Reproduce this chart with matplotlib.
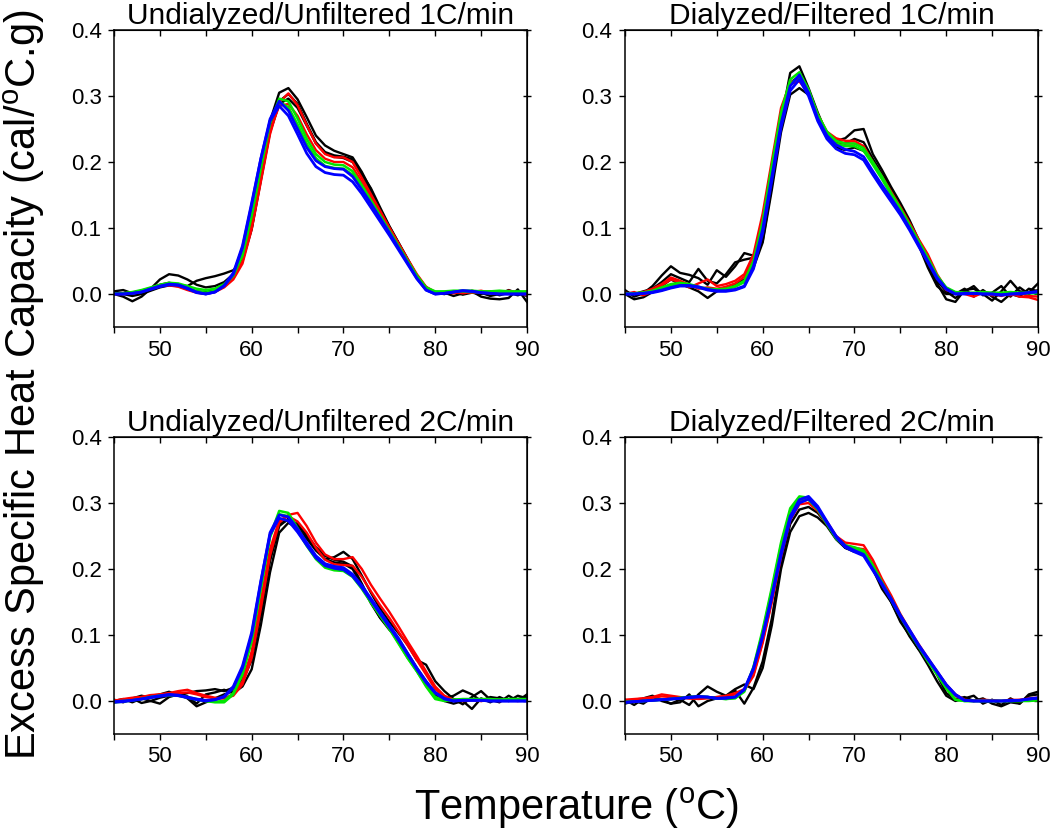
import matplotlib
matplotlib.use('Agg')
import matplotlib.pyplot as plt
from matplotlib.ticker import MultipleLocator

plt.rcParams['font.family'] = ['Liberation Sans', 'DejaVu Sans']
plt.rcParams['mathtext.default'] = 'regular'

temp = list(range(45, 91))

titles = ['Undialyzed/Unfiltered 1C/min', 'Dialyzed/Filtered 1C/min',
          'Undialyzed/Unfiltered 2C/min', 'Dialyzed/Filtered 2C/min']

# ---- panel 1: undialyzed, 1C/min ----
p1_black1 = [0.000, -0.004, -0.011, -0.004, 0.008, 0.022, 0.030, 0.028, 0.022, 0.014,
             0.010, 0.012, 0.018, 0.030, 0.060, 0.115, 0.190, 0.262, 0.305, 0.312,
             0.295, 0.268, 0.240, 0.225, 0.217, 0.212, 0.207, 0.185, 0.158, 0.128,
             0.102, 0.077, 0.052, 0.027, 0.008, 0.000, 0.002, -0.003, 0.001, 0.004,
             -0.004, -0.007, -0.008, -0.006, 0.007, -0.012]
p1_black2 = [0.004, 0.006, 0.001, 0.003, 0.008, 0.014, 0.017, 0.014, 0.012, 0.020,
             0.024, 0.027, 0.031, 0.036, 0.052, 0.100, 0.175, 0.248, 0.292, 0.303,
             0.288, 0.258, 0.230, 0.215, 0.210, 0.208, 0.204, 0.182, 0.160, 0.131,
             0.103, 0.078, 0.053, 0.028, 0.010, 0.001, 0.000, 0.003, -0.001, 0.002,
             0.000, 0.004, -0.002, 0.002, -0.002, 0.004]
p1_black3 = [0.002, 0.000, -0.003, 0.000, 0.005, 0.010, 0.013, 0.012, 0.008, 0.004,
             0.003, 0.007, 0.015, 0.027, 0.050, 0.098, 0.172, 0.245, 0.288, 0.296,
             0.282, 0.255, 0.228, 0.213, 0.208, 0.206, 0.200, 0.178, 0.153, 0.126,
             0.100, 0.075, 0.050, 0.026, 0.008, 0.002, 0.000, 0.003, 0.000, 0.005,
             0.002, -0.003, 0.000, 0.006, 0.001, -0.003]
p1_red1 = [0.000, 0.000, 0.002, 0.004, 0.008, 0.012, 0.013, 0.011, 0.006, 0.002,
           0.000, 0.003, 0.010, 0.022, 0.046, 0.098, 0.170, 0.242, 0.290, 0.304,
           0.286, 0.256, 0.228, 0.212, 0.207, 0.207, 0.200, 0.176, 0.151, 0.126,
           0.101, 0.077, 0.053, 0.030, 0.011, 0.003, 0.002, 0.004, 0.001, 0.003,
           0.005, 0.002, 0.004, 0.001, 0.003, -0.002]
p1_red2 = [0.001, 0.001, 0.002, 0.005, 0.009, 0.013, 0.014, 0.012, 0.007, 0.003,
           0.001, 0.004, 0.011, 0.024, 0.050, 0.105, 0.178, 0.248, 0.285, 0.288,
           0.270, 0.242, 0.218, 0.205, 0.200, 0.200, 0.192, 0.170, 0.147, 0.123,
           0.099, 0.075, 0.051, 0.028, 0.010, 0.002, 0.003, 0.001, 0.004, 0.002,
           0.003, 0.004, 0.001, 0.005, 0.002, 0.003]
p1_green1 = [0.000, 0.001, 0.003, 0.006, 0.010, 0.014, 0.017, 0.016, 0.012, 0.008,
             0.006, 0.008, 0.015, 0.028, 0.058, 0.118, 0.190, 0.258, 0.296, 0.292,
             0.266, 0.235, 0.212, 0.200, 0.196, 0.195, 0.186, 0.165, 0.142, 0.119,
             0.096, 0.073, 0.050, 0.028, 0.010, 0.004, 0.004, 0.005, 0.005, 0.005,
             0.004, 0.004, 0.005, 0.004, 0.004, 0.004]
p1_green2 = [0.001, 0.001, 0.002, 0.005, 0.009, 0.013, 0.015, 0.014, 0.009, 0.004,
             0.002, 0.005, 0.013, 0.028, 0.062, 0.125, 0.197, 0.262, 0.291, 0.283,
             0.257, 0.228, 0.206, 0.194, 0.191, 0.190, 0.181, 0.161, 0.139, 0.116,
             0.094, 0.071, 0.048, 0.026, 0.008, 0.002, 0.003, 0.004, 0.004, 0.003,
             0.003, 0.003, 0.002, 0.002, 0.002, 0.002]
p1_blue1 = [0.000, 0.000, 0.001, 0.003, 0.008, 0.012, 0.015, 0.014, 0.009, 0.003,
            0.000, 0.003, 0.012, 0.030, 0.070, 0.135, 0.205, 0.265, 0.292, 0.278,
            0.250, 0.222, 0.202, 0.193, 0.190, 0.189, 0.178, 0.158, 0.137, 0.115,
            0.093, 0.070, 0.047, 0.024, 0.006, 0.000, 0.001, 0.003, 0.005, 0.004,
            0.002, 0.001, 0.000, 0.000, 0.000, 0.000]
p1_blue2 = [0.000, 0.000, 0.001, 0.003, 0.007, 0.011, 0.014, 0.013, 0.008, 0.002,
            0.000, 0.003, 0.013, 0.032, 0.073, 0.138, 0.205, 0.262, 0.285, 0.270,
            0.242, 0.213, 0.193, 0.184, 0.181, 0.180, 0.170, 0.152, 0.131, 0.110,
            0.089, 0.067, 0.045, 0.023, 0.006, 0.000, 0.001, 0.003, 0.005, 0.004,
            0.002, 0.001, 0.000, 0.000, 0.000, 0.000]

# ---- panel 2: dialyzed, 1C/min ----
p2_black1 = [0.006, -0.004, 0.001, 0.012, 0.028, 0.042, 0.032, 0.029, 0.024, 0.014,
             0.036, 0.026, 0.042, 0.062, 0.058, 0.092, 0.172, 0.262, 0.335, 0.345,
             0.312, 0.275, 0.242, 0.232, 0.236, 0.248, 0.250, 0.212, 0.188, 0.162,
             0.138, 0.112, 0.082, 0.047, 0.016, -0.008, -0.012, 0.006, 0.008, 0.000,
             -0.010, 0.004, 0.020, 0.004, 0.002, 0.016]
p2_black2 = [0.000, -0.008, -0.005, 0.003, 0.012, 0.022, 0.015, 0.010, 0.004, -0.006,
             0.004, 0.010, 0.015, 0.022, 0.040, 0.078, 0.158, 0.245, 0.302, 0.312,
             0.302, 0.272, 0.240, 0.222, 0.218, 0.222, 0.217, 0.202, 0.180, 0.160,
             0.134, 0.106, 0.074, 0.040, 0.012, 0.000, 0.000, 0.008, -0.004, 0.006,
             -0.004, -0.012, 0.000, -0.004, 0.008, 0.004]
p2_black3 = [0.003, 0.000, 0.004, 0.008, 0.018, 0.030, 0.024, 0.018, 0.038, 0.020,
             0.016, 0.030, 0.048, 0.052, 0.055, 0.080, 0.165, 0.258, 0.320, 0.330,
             0.308, 0.270, 0.243, 0.230, 0.228, 0.235, 0.230, 0.205, 0.182, 0.158,
             0.133, 0.108, 0.078, 0.052, 0.020, 0.004, -0.006, 0.004, 0.012, -0.002,
             0.002, 0.012, -0.004, 0.010, 0.000, 0.006]
p2_red1 = [0.000, 0.003, -0.002, 0.004, 0.013, 0.022, 0.018, 0.010, 0.016, 0.022,
           0.012, 0.015, 0.020, 0.030, 0.060, 0.122, 0.202, 0.282, 0.320, 0.326,
           0.308, 0.272, 0.246, 0.236, 0.232, 0.232, 0.224, 0.200, 0.178, 0.155,
           0.132, 0.108, 0.083, 0.060, 0.030, 0.008, 0.002, 0.000, -0.004, 0.002,
           0.000, -0.003, 0.001, -0.004, -0.005, -0.009]
p2_red2 = [0.002, 0.000, 0.003, 0.008, 0.015, 0.025, 0.020, 0.014, 0.008, 0.010,
           0.008, 0.011, 0.016, 0.026, 0.052, 0.108, 0.190, 0.272, 0.318, 0.322,
           0.305, 0.270, 0.244, 0.232, 0.228, 0.228, 0.222, 0.198, 0.176, 0.152,
           0.128, 0.104, 0.080, 0.055, 0.026, 0.006, 0.002, 0.001, 0.000, 0.003,
           -0.002, 0.000, -0.002, 0.001, -0.003, -0.004]
p2_green1 = [0.000, 0.001, 0.002, 0.005, 0.010, 0.015, 0.017, 0.015, 0.011, 0.008,
             0.007, 0.008, 0.012, 0.020, 0.050, 0.110, 0.195, 0.275, 0.325, 0.336,
             0.310, 0.272, 0.246, 0.232, 0.228, 0.228, 0.221, 0.200, 0.178, 0.153,
             0.130, 0.105, 0.080, 0.055, 0.028, 0.010, 0.003, 0.002, 0.002, 0.003,
             0.002, 0.002, 0.003, 0.002, 0.002, 0.002]
p2_green2 = [0.001, 0.001, 0.002, 0.004, 0.008, 0.013, 0.015, 0.013, 0.010, 0.007,
             0.006, 0.007, 0.011, 0.018, 0.046, 0.104, 0.188, 0.268, 0.318, 0.330,
             0.305, 0.268, 0.242, 0.228, 0.224, 0.224, 0.217, 0.196, 0.174, 0.150,
             0.127, 0.103, 0.078, 0.053, 0.026, 0.008, 0.002, 0.001, 0.001, 0.002,
             0.001, 0.001, 0.002, 0.001, 0.001, 0.001]
p2_blue1 = [0.000, 0.000, 0.001, 0.003, 0.006, 0.010, 0.013, 0.013, 0.011, 0.007,
            0.005, 0.005, 0.007, 0.012, 0.042, 0.098, 0.178, 0.258, 0.315, 0.332,
            0.305, 0.266, 0.240, 0.226, 0.219, 0.216, 0.208, 0.186, 0.165, 0.145,
            0.124, 0.100, 0.075, 0.050, 0.025, 0.008, 0.000, 0.001, 0.001, 0.000,
            0.000, -0.002, 0.000, 0.000, 0.002, 0.004]
p2_blue2 = [0.000, 0.000, 0.001, 0.002, 0.005, 0.009, 0.012, 0.012, 0.010, 0.006,
            0.004, 0.004, 0.006, 0.011, 0.038, 0.092, 0.172, 0.252, 0.308, 0.325,
            0.300, 0.262, 0.235, 0.220, 0.213, 0.211, 0.203, 0.181, 0.160, 0.140,
            0.120, 0.097, 0.072, 0.048, 0.023, 0.007, 0.000, 0.000, 0.001, 0.000,
            0.000, -0.001, 0.000, 0.001, 0.002, 0.003]

# ---- panel 3: undialyzed, 2C/min ----
p3_black1 = [0.002, -0.002, 0.004, -0.003, 0.000, 0.005, 0.008, 0.012, 0.007, -0.004,
             0.010, 0.013, 0.017, 0.012, 0.022, 0.048, 0.115, 0.195, 0.255, 0.270,
             0.262, 0.246, 0.228, 0.215, 0.218, 0.226, 0.215, 0.190, 0.164, 0.140,
             0.120, 0.103, 0.085, 0.062, 0.055, 0.030, 0.015, 0.003, -0.005, 0.006,
             0.015, 0.002, -0.002, 0.008, 0.000, 0.010]
p3_black2 = [0.000, 0.003, -0.002, 0.004, 0.000, -0.004, 0.006, 0.010, 0.004, -0.008,
             -0.002, 0.004, 0.010, 0.015, 0.030, 0.062, 0.130, 0.212, 0.265, 0.276,
             0.268, 0.252, 0.233, 0.220, 0.214, 0.211, 0.204, 0.178, 0.150, 0.126,
             0.108, 0.094, 0.072, 0.050, 0.030, 0.010, 0.000, -0.004, 0.000, -0.012,
             0.004, -0.002, 0.006, 0.000, 0.003, 0.006]
p3_black3 = [-0.002, 0.000, 0.004, 0.008, 0.005, 0.010, 0.014, 0.009, 0.012, 0.015,
             0.016, 0.018, 0.015, 0.020, 0.032, 0.070, 0.140, 0.220, 0.268, 0.275,
             0.266, 0.250, 0.230, 0.215, 0.210, 0.208, 0.200, 0.175, 0.148, 0.126,
             0.110, 0.090, 0.068, 0.046, 0.025, 0.010, 0.004, 0.008, 0.016, 0.010,
             0.000, 0.006, 0.004, 0.000, 0.008, 0.004]
p3_red1 = [0.000, 0.003, 0.005, 0.006, 0.009, 0.010, 0.012, 0.015, 0.017, 0.012,
           0.008, 0.005, 0.004, 0.008, 0.025, 0.065, 0.140, 0.220, 0.270, 0.282,
           0.285, 0.265, 0.240, 0.222, 0.215, 0.215, 0.218, 0.200, 0.176, 0.155,
           0.135, 0.113, 0.090, 0.068, 0.045, 0.022, 0.008, 0.002, 0.000, 0.002,
           0.000, 0.001, 0.000, 0.002, 0.001, 0.002]
p3_red2 = [0.001, 0.002, 0.004, 0.006, 0.008, 0.010, 0.011, 0.012, 0.013, 0.010,
           0.006, 0.004, 0.004, 0.010, 0.030, 0.075, 0.152, 0.230, 0.274, 0.280,
           0.272, 0.255, 0.232, 0.214, 0.207, 0.206, 0.205, 0.188, 0.166, 0.145,
           0.126, 0.105, 0.084, 0.062, 0.040, 0.018, 0.006, 0.002, 0.000, 0.001,
           0.000, 0.002, 0.000, 0.001, 0.000, 0.001]
p3_green1 = [-0.002, -0.001, 0.001, 0.003, 0.006, 0.008, 0.009, 0.008, 0.006, 0.003,
             0.000, -0.002, -0.002, 0.010, 0.040, 0.090, 0.170, 0.250, 0.288, 0.285,
             0.262, 0.238, 0.218, 0.205, 0.200, 0.200, 0.190, 0.172, 0.150, 0.130,
             0.110, 0.088, 0.065, 0.045, 0.022, 0.003, 0.000, 0.002, 0.003, 0.003,
             0.003, 0.003, 0.002, 0.003, 0.003, 0.003]
p3_green2 = [-0.001, 0.000, 0.001, 0.003, 0.006, 0.008, 0.009, 0.008, 0.005, 0.002,
             0.000, -0.001, 0.000, 0.012, 0.043, 0.095, 0.172, 0.248, 0.283, 0.280,
             0.258, 0.235, 0.215, 0.202, 0.198, 0.197, 0.188, 0.170, 0.149, 0.129,
             0.109, 0.087, 0.065, 0.045, 0.024, 0.006, 0.001, 0.002, 0.002, 0.002,
             0.002, 0.002, 0.002, 0.002, 0.002, 0.002]
p3_blue1 = [-0.002, -0.001, 0.001, 0.003, 0.006, 0.008, 0.010, 0.009, 0.006, 0.003,
            0.001, 0.002, 0.006, 0.020, 0.050, 0.100, 0.180, 0.255, 0.282, 0.279,
            0.261, 0.240, 0.220, 0.208, 0.204, 0.202, 0.192, 0.175, 0.155, 0.135,
            0.115, 0.095, 0.072, 0.050, 0.030, 0.013, 0.004, 0.000, 0.001, 0.001,
            0.001, 0.000, 0.000, 0.000, 0.000, 0.000]
p3_blue2 = [-0.001, 0.000, 0.001, 0.003, 0.005, 0.007, 0.009, 0.008, 0.005, 0.002,
            0.000, 0.002, 0.007, 0.022, 0.053, 0.104, 0.182, 0.252, 0.277, 0.273,
            0.256, 0.236, 0.217, 0.205, 0.201, 0.199, 0.189, 0.172, 0.152, 0.132,
            0.112, 0.092, 0.070, 0.048, 0.028, 0.012, 0.003, 0.000, 0.001, 0.001,
            0.001, 0.000, 0.000, 0.000, 0.000, 0.000]

# ---- panel 4: dialyzed, 2C/min ----
p4_black1 = [-0.004, 0.000, -0.004, 0.006, 0.002, -0.004, 0.002, -0.006, 0.010, 0.022,
             0.014, 0.008, 0.018, 0.025, 0.018, 0.050, 0.115, 0.200, 0.256, 0.280,
             0.285, 0.278, 0.265, 0.245, 0.232, 0.228, 0.226, 0.200, 0.170, 0.150,
             0.123, 0.098, 0.078, 0.065, 0.040, 0.012, 0.003, 0.006, 0.000, 0.004,
             -0.004, -0.008, -0.002, -0.004, 0.010, 0.014]
p4_black2 = [0.002, -0.006, 0.004, 0.008, 0.000, -0.004, -0.002, 0.010, -0.008, 0.000,
             0.004, 0.006, 0.016, -0.004, 0.020, 0.060, 0.125, 0.210, 0.268, 0.290,
             0.294, 0.285, 0.268, 0.250, 0.232, 0.226, 0.225, 0.205, 0.176, 0.150,
             0.120, 0.100, 0.078, 0.055, 0.030, 0.008, 0.000, 0.004, 0.008, -0.004,
             0.002, -0.006, 0.004, -0.004, 0.008, 0.010]
p4_red1 = [0.000, 0.002, 0.004, 0.006, 0.010, 0.008, 0.006, 0.004, 0.003, 0.004,
           0.006, 0.008, 0.012, 0.018, 0.040, 0.090, 0.152, 0.222, 0.280, 0.302,
           0.305, 0.292, 0.272, 0.250, 0.240, 0.238, 0.236, 0.214, 0.185, 0.160,
           0.132, 0.108, 0.086, 0.065, 0.045, 0.025, 0.010, 0.002, 0.000, 0.002,
           0.001, 0.000, 0.002, 0.001, 0.004, 0.005]
p4_red2 = [0.002, 0.003, 0.004, 0.005, 0.007, 0.006, 0.005, 0.004, 0.004, 0.005,
           0.006, 0.007, 0.010, 0.016, 0.038, 0.088, 0.150, 0.218, 0.274, 0.298,
           0.300, 0.288, 0.268, 0.248, 0.236, 0.232, 0.230, 0.208, 0.180, 0.155,
           0.130, 0.106, 0.084, 0.063, 0.043, 0.024, 0.008, 0.001, 0.000, 0.001,
           0.001, 0.000, 0.001, 0.002, 0.003, 0.004]
p4_green1 = [-0.002, -0.001, 0.000, 0.001, 0.002, 0.003, 0.004, 0.006, 0.007, 0.006,
             0.004, 0.003, 0.004, 0.014, 0.052, 0.108, 0.172, 0.240, 0.292, 0.310,
             0.308, 0.292, 0.270, 0.248, 0.236, 0.233, 0.228, 0.206, 0.180, 0.155,
             0.130, 0.106, 0.084, 0.062, 0.042, 0.020, 0.002, 0.000, 0.000, 0.000,
             0.000, 0.000, 0.000, 0.000, 0.000, 0.001]
p4_green2 = [-0.001, -0.001, 0.000, 0.001, 0.002, 0.003, 0.005, 0.006, 0.007, 0.006,
             0.004, 0.003, 0.005, 0.016, 0.050, 0.104, 0.168, 0.236, 0.288, 0.306,
             0.305, 0.290, 0.268, 0.246, 0.234, 0.230, 0.225, 0.203, 0.178, 0.153,
             0.128, 0.104, 0.082, 0.060, 0.040, 0.019, 0.002, 0.000, 0.000, 0.000,
             0.000, 0.000, 0.000, 0.000, 0.001, 0.002]
p4_blue1 = [-0.002, -0.001, 0.000, 0.001, 0.002, 0.003, 0.004, 0.006, 0.007, 0.006,
            0.004, 0.005, 0.006, 0.018, 0.050, 0.100, 0.160, 0.225, 0.280, 0.305,
            0.310, 0.295, 0.272, 0.250, 0.235, 0.228, 0.222, 0.200, 0.178, 0.155,
            0.130, 0.108, 0.085, 0.065, 0.045, 0.025, 0.010, 0.001, 0.000, 0.000,
            0.000, 0.000, 0.001, 0.001, 0.003, 0.005]
p4_blue2 = [-0.002, -0.001, 0.000, 0.001, 0.002, 0.003, 0.004, 0.005, 0.006, 0.006,
            0.004, 0.004, 0.006, 0.017, 0.048, 0.097, 0.156, 0.220, 0.275, 0.300,
            0.306, 0.292, 0.270, 0.248, 0.233, 0.226, 0.220, 0.198, 0.176, 0.153,
            0.128, 0.106, 0.083, 0.063, 0.044, 0.024, 0.009, 0.001, 0.000, 0.000,
            0.000, 0.000, 0.000, 0.001, 0.003, 0.004]

panels = [
    {'black': [p1_black1, p1_black2, p1_black3], 'red': [p1_red1, p1_red2],
     'green': [p1_green1, p1_green2], 'blue': [p1_blue1, p1_blue2]},
    {'black': [p2_black1, p2_black2, p2_black3], 'red': [p2_red1, p2_red2],
     'green': [p2_green1, p2_green2], 'blue': [p2_blue1, p2_blue2]},
    {'black': [p3_black1, p3_black2, p3_black3], 'red': [p3_red1, p3_red2],
     'green': [p3_green1, p3_green2], 'blue': [p3_blue1, p3_blue2]},
    {'black': [p4_black1, p4_black2], 'red': [p4_red1, p4_red2],
     'green': [p4_green1, p4_green2], 'blue': [p4_blue1, p4_blue2]},
]

colors = {'black': '#000000', 'red': '#ff0000', 'green': '#00e600', 'blue': '#0000ff'}
widths = {'black': 1.7, 'red': 1.7, 'green': 1.8, 'blue': 2.0}

fig = plt.figure(figsize=(10.5, 8.34), dpi=100)
W, H = 1050, 834
# axes boxes in pixels: left, top, right, bottom
boxes = [(114, 30, 527, 327), (625, 30, 1038, 327),
         (114, 437, 527, 734), (625, 437, 1038, 734)]

for box, title, curves in zip(boxes, titles, panels):
    l, t, r, b = box
    ax = fig.add_axes([l / W, 1 - b / H, (r - l) / W, (b - t) / H])
    for name in ['black', 'red', 'green', 'blue']:
        for ys in curves[name]:
            ax.plot(temp, ys, color=colors[name], lw=widths[name])
    ax.set_xlim(45, 90)
    ax.set_ylim(-0.05, 0.4)
    ax.xaxis.set_major_locator(MultipleLocator(10))
    ax.xaxis.set_minor_locator(MultipleLocator(5))
    ax.yaxis.set_major_locator(MultipleLocator(0.1))
    ax.yaxis.set_major_formatter(plt.FormatStrFormatter('%.1f'))
    ax.tick_params(which='both', direction='out', length=4, width=1,
                   labelsize=16, top=False, right=False, pad=5)
    ax.set_title(title, fontsize=21.5, pad=2)
    for sp in ax.spines.values():
        sp.set_linewidth(1.1)
    # mirrored inner ticks on top and right
    top = ax.secondary_xaxis('top')
    top.xaxis.set_major_locator(MultipleLocator(5))
    top.tick_params(direction='in', length=4, width=1, labeltop=False)
    right = ax.secondary_yaxis('right')
    right.yaxis.set_major_locator(MultipleLocator(0.1))
    right.tick_params(direction='inout', length=6, width=1, labelright=False)

fig.text(0.549, 1 - 808 / H, r'Temperature ($^{o}$C)', fontsize=30,
         ha='center', va='center')
fig.text(24 / W, 1 - 385 / H, r'Excess Specific Heat Capacity (cal/$^{o}$C.g)',
         fontsize=30, rotation=90, ha='center', va='center')

fig.savefig('out.png', dpi=100)
